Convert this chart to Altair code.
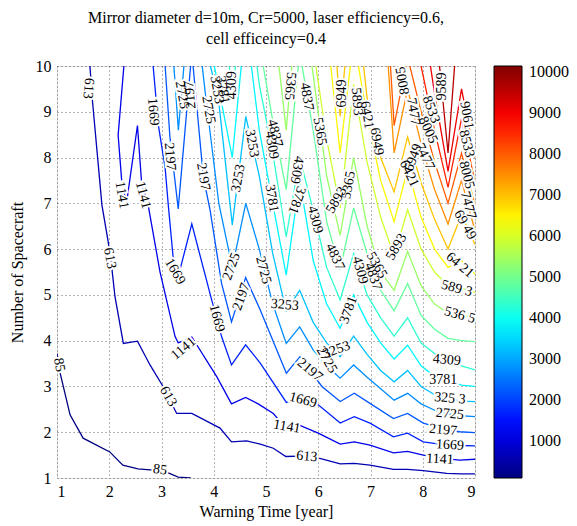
import altair as alt
import pandas as pd

# ---- contour levels and traced contour lines (x = warning time [year], y = number of spacecraft)
levels = [85, 613, 1141, 1669, 2197, 2725, 3253, 3781, 4309, 4837, 5365, 5893, 6421, 6949, 7477, 8005, 8533, 9061, 9589]

c85_x = [1.0, 1.06, 1.25, 1.5, 2.01, 2.26, 2.55, 2.84, 3.13, 3.32, 3.56]
c85_y = [3.72, 3.29, 2.38, 1.87, 1.57, 1.28, 1.20, 1.17, 1.11, 1.02, 1.0]

c613_x = [1.63, 1.68, 1.86, 1.98, 2.05, 2.11, 2.27, 2.54, 2.78, 3.03, 3.29, 3.58, 4.12, 4.34, 4.63, 4.89, 5.14, 5.38, 5.65, 6.03, 6.42, 6.69, 6.99, 7.44, 7.71, 8.01, 8.46, 8.74, 9.0]
c613_y = [10.0, 9.22, 6.96, 6.16, 5.58, 4.96, 3.94, 3.99, 3.47, 3.0, 2.41, 2.41, 2.09, 1.79, 1.81, 1.74, 1.65, 1.47, 1.48, 1.43, 1.31, 1.32, 1.28, 1.19, 1.19, 1.16, 1.10, 1.09, 1.09]

c1141_x = [2.28, 2.17, 2.24, 2.33, 2.54, 2.62, 2.75, 2.97, 3.26, 3.32, 3.58, 4.06, 4.34, 4.61, 4.85, 5.14, 5.39, 5.65, 6.0, 6.42, 6.69, 6.99, 7.44, 7.71, 8.01, 8.46, 8.71, 9.0]
c1141_y = [10.0, 8.49, 7.47, 7.0, 8.70, 7.44, 6.93, 5.51, 4.09, 3.95, 4.08, 3.21, 2.62, 2.76, 2.62, 2.41, 2.08, 2.15, 1.98, 1.74, 1.79, 1.72, 1.55, 1.58, 1.50, 1.42, 1.39, 1.41]

c1669_x = [2.84, 2.94, 3.07, 3.13, 3.23, 3.32, 3.58, 3.96, 4.15, 4.34, 4.61, 4.89, 5.39, 5.65, 6.0, 6.42, 6.69, 6.99, 7.44, 7.71, 8.01, 8.46, 8.71, 9.0]
c1669_y = [10.0, 8.71, 7.77, 6.96, 5.73, 5.40, 6.55, 4.89, 4.09, 3.47, 3.91, 3.51, 2.65, 2.72, 2.60, 2.20, 2.34, 2.20, 1.90, 1.98, 1.79, 1.72, 1.71, 1.70]

c2197_x = [3.07, 3.16, 3.32, 3.58, 3.80, 3.93, 4.15, 4.34, 4.61, 4.89, 5.39, 5.65, 6.07, 6.42, 6.69, 6.99, 7.44, 7.71, 8.01, 8.46, 8.71, 9.0]
c2197_y = [10.0, 8.46, 6.88, 10.3, 7.58, 6.85, 5.25, 4.41, 5.38, 4.67, 3.29, 3.65, 3.0, 2.67, 2.85, 2.63, 2.30, 2.41, 2.20, 2.05, 2.01, 1.99]

c2725_x = [3.20, 3.323, 3.581, 3.839, 4.097, 4.355, 4.613, 4.871, 5.129, 5.387, 5.645, 5.903, 6.161, 6.419, 6.677, 6.935, 7.194, 7.452, 7.71, 7.968, 8.226, 8.484, 8.742, 9.0]
c2725_y = [10.6, 8.6, 12.0, 9.4, 7.0, 5.6, 7.0, 6.0, 4.8, 3.94, 4.3, 3.8, 3.45, 3.18, 3.47, 3.2, 2.95, 2.70, 2.85, 2.62, 2.48, 2.40, 2.36, 2.34]

c3253_x = [3.45, 3.581, 3.839, 4.097, 4.355, 4.613, 4.871, 5.129, 5.387, 5.645, 5.903, 6.161, 6.419, 6.677, 6.935, 7.194, 7.452, 7.71, 7.968, 8.226, 8.484, 8.742, 9.0]
c3253_y = [13.0, 12.5, 10.5, 9.2, 6.53, 8.9, 7.6, 5.9, 4.65, 5.1, 4.4, 3.95, 3.65, 4.1, 3.7, 3.35, 3.1, 3.35, 3.0, 2.82, 2.74, 2.68, 2.67]

c3781_x = [3.70, 3.839, 4.097, 4.355, 4.613, 4.871, 5.129, 5.387, 5.645, 5.903, 6.161, 6.419, 6.677, 6.935, 7.194, 7.452, 7.71, 7.968, 8.226, 8.484, 8.742, 9.0]
c3781_y = [12.5, 11.0, 9.5, 8.0, 11.0, 8.6, 7.0, 5.43, 7.5, 5.75, 4.8, 4.27, 5.0, 4.4, 3.95, 3.6, 3.9, 3.45, 3.22, 3.12, 3.03, 3.0]

c4309_x = [4.10, 4.355, 4.613, 4.871, 5.129, 5.387, 5.645, 5.903, 6.161, 6.419, 6.677, 6.935, 7.194, 7.452, 7.71, 7.968, 8.226, 8.484, 8.742, 9.0]
c4309_y = [12.0, 9.4, 12.0, 9.6, 8.1, 6.27, 8.0, 6.85, 5.6, 4.89, 5.9, 5.0, 4.5, 4.1, 4.5, 3.95, 3.72, 3.58, 3.45, 3.36]

c4837_x = [4.70, 4.871, 5.129, 5.387, 5.645, 5.903, 6.161, 6.419, 6.677, 6.935, 7.194, 7.452, 7.71, 7.968, 8.226, 8.484, 8.742, 9.0]
c4837_y = [12.0, 10.5, 8.8, 7.3, 10.3, 8.6, 6.6, 5.55, 6.9, 5.9, 5.1, 4.65, 5.25, 4.55, 4.25, 4.05, 4.0, 3.98]

c5365_x = [5.05, 5.387, 5.645, 5.903, 6.161, 6.419, 6.677, 6.935, 7.194, 7.452, 7.71, 7.968, 8.226, 8.484, 8.742, 9.0]
c5365_y = [12.0, 8.6, 12.0, 9.8, 7.6, 6.3, 8.0, 6.5, 5.5, 5.1, 5.95, 5.2, 4.8, 4.6, 4.55, 4.5]

c5893_x = [5.60, 5.903, 6.161, 6.419, 6.677, 6.935, 7.194, 7.452, 7.71, 7.968, 8.226, 8.484, 8.742, 9.0]
c5893_y = [12.0, 10.4, 8.4, 6.9, 9.6, 7.9, 6.7, 5.85, 6.86, 6.0, 5.5, 5.2, 5.15, 5.05]

c6421_x = [6.05, 6.419, 6.677, 6.935, 7.194, 7.452, 7.71, 7.968, 8.226, 8.484, 8.742, 9.0]
c6421_y = [12.0, 8.1, 10.6, 8.9, 7.5, 6.6, 7.75, 6.7, 6.0, 5.6, 5.75, 5.45]

c6949_x = [6.25, 6.419, 6.677, 6.935, 7.194, 7.452, 7.71, 7.968, 8.226, 8.484, 8.742, 9.0]
c6949_y = [12.0, 8.9, 12.0, 9.3, 8.0, 7.25, 8.45, 7.45, 6.65, 6.0, 6.75, 6.1]

c7477_x = [7.25, 7.452, 7.71, 7.968, 8.226, 8.484, 8.742, 9.0]
c7477_y = [11.5, 8.1, 9.5, 8.3, 7.3, 6.55, 7.5, 6.4]

c8005_x = [7.35, 7.452, 7.71, 7.968, 8.226, 8.484, 8.742, 9.0]
c8005_y = [10.6, 8.7, 10.2, 9.0, 7.9, 7.0, 8.1, 6.95]

c8533_x = [7.70, 7.968, 8.226, 8.484, 8.742, 9.0]
c8533_y = [11.5, 10.0, 8.6, 7.35, 8.85, 7.45]

c9061_x = [7.95, 8.226, 8.484, 8.742, 9.0]
c9061_y = [11.5, 9.4, 7.7, 9.5, 8.0]

c9589_x = [8.15, 8.484, 8.742, 9.0]
c9589_y = [12.0, 8.1, 12.0, 10.2]

line_x = [c85_x, c613_x, c1141_x, c1669_x, c2197_x, c2725_x, c3253_x, c3781_x, c4309_x, c4837_x,
          c5365_x, c5893_x, c6421_x, c6949_x, c7477_x, c8005_x, c8533_x, c9061_x, c9589_x]
line_y = [c85_y, c613_y, c1141_y, c1669_y, c2197_y, c2725_y, c3253_y, c3781_y, c4309_y, c4837_y,
          c5365_y, c5893_y, c6421_y, c6949_y, c7477_y, c8005_y, c8533_y, c9061_y, c9589_y]

# ---- inline contour labels
lab_x = [1.04, 2.97, 1.60, 2.01, 3.13, 5.78, 2.24, 2.65, 3.42, 5.40, 8.33, 2.84, 3.26, 4.06, 5.71, 8.52,
         3.16, 3.55, 3.80, 4.53, 5.84, 8.39, 3.39, 3.90, 4.34, 4.95, 6.16, 8.52, 4.06, 4.73, 4.47, 5.36,
         6.35, 8.52, 4.17, 5.11, 5.59, 6.58, 8.39, 4.34, 5.11, 5.59, 5.94, 6.80, 8.46, 5.17, 5.78, 6.32,
         7.05, 5.46, 6.03, 6.58, 7.12, 8.71, 6.74, 6.35, 7.50, 8.65, 6.93, 7.74, 8.71, 6.46, 7.12, 7.82,
         8.81, 7.82, 8.87, 7.62, 8.84, 8.84, 8.84, 8.36, 8.04, 8.10, 8.16]
lab_y = [3.47, 1.18, 9.51, 5.80, 2.78, 1.47, 7.18, 7.18, 3.83, 2.12, 1.41, 9.0, 5.51, 4.49, 2.70, 1.72,
         8.02, 9.37, 7.58, 4.96, 3.36, 2.05, 9.37, 9.04, 5.62, 5.54, 3.58, 2.40, 9.48, 8.31, 7.55, 4.78,
         3.80, 2.74, 9.48, 7.11, 7.07, 4.67, 3.14, 9.58, 8.27, 7.73, 6.64, 5.54, 3.58, 8.53, 9.33, 5.83,
         5.40, 9.56, 8.57, 7.40, 5.65, 4.56, 9.22, 7.07, 6.05, 5.14, 8.93, 7.65, 5.65, 9.40, 8.35, 8.00,
         6.53, 9.00, 6.96, 9.68, 7.62, 8.30, 8.92, 9.55, 8.02, 8.60, 9.05]
lab_text = ["85", "85", "613", "613", "613", "613", "1141", "1141", "1141", "1141", "1141", "1669", "1669", "1669", "1669", "1669",
            "2197", "2197", "2197", "2197", "2197", "2197", "2725", "2725", "2725", "2725", "2725", "2725", "3253", "3253", "3253", "3253",
            "3253", "325 3", "3781", "3781", "3781", "3781", "3781", "4309", "4309", "4309", "4309", "4309", "4309", "4837", "4837", "4837",
            "4837", "5365", "5365", "5365", "5365", "536 5", "5893", "5893", "5893", "589 3", "6421", "6421", "64 21", "6949", "6949", "6949",
            "69 49", "7477", "7477", "8005", "8005", "8533", "9061", "9589", "7477", "8005", "8533"]
lab_angle = [80, 8, 95, 80, 60, 5, 80, 75, 320, 10, 3, 85, 60, 75, 15, 3,
             85, 265, 80, 290, 40, 5, 80, 80, 290, 75, 60, 5, 80, 80, 280, 5,
             340, 5, 80, 80, 110, 290, 0, 270, 80, 100, 75, 75, 5, 75, 80, 65,
             70, 95, 80, 280, 60, 15, 85, 300, 300, 15, 80, 65, 40, 270, 80, 290,
             60, 80, 75, 260, 75, 75, 80, 270, 65, 65, 70]

# ---- colormap (MATLAB jet) for the colour scale
def jet(t):
    r = min(max(1.5 - abs(4 * t - 3), 0), 1)
    g = min(max(1.5 - abs(4 * t - 2), 0), 1)
    b = min(max(1.5 - abs(4 * t - 1), 0), 1)
    return "#%02x%02x%02x" % (round(r * 255), round(g * 255), round(b * 255))

jet64 = [jet(i / 63) for i in range(64)]
cmin, cmax = 85, 10150

rows = []
for lev, xs, ys in zip(levels, line_x, line_y):
    for i, (xv, yv) in enumerate(zip(xs, ys)):
        rows.append({"level": lev, "order": i, "x": xv, "y": yv})
df = pd.DataFrame(rows)

labels = pd.DataFrame({"x": lab_x, "y": lab_y, "text": lab_text, "angle": lab_angle})

FONT = "Liberation Serif"

xscale = alt.Scale(domain=[1, 9], nice=False, zero=False)
yscale = alt.Scale(domain=[1, 10], nice=False, zero=False)

xaxis = alt.Axis(values=list(range(1, 10)), title="Warning Time [year]", grid=True, gridDash=[1, 3],
                 gridColor="#444444", gridWidth=0.8, ticks=False, domain=False, labelFont=FONT,
                 labelFontSize=16, labelColor="black", labelPadding=5, titleFont=FONT, titleFontSize=16,
                 titleFontWeight="normal", titleColor="black", titlePadding=4)
yaxis = alt.Axis(values=list(range(1, 11)), title="Number of Spacecraft", grid=True, gridDash=[1, 3],
                 gridColor="#444444", gridWidth=0.8, ticks=False, domain=False, labelFont=FONT,
                 labelFontSize=16, labelColor="black", labelPadding=6, titleFont=FONT, titleFontSize=16,
                 titleFontWeight="normal", titleColor="black", titlePadding=10)

lines = alt.Chart(df).mark_line(clip=True, strokeWidth=1.3).encode(
    x=alt.X("x:Q", scale=xscale, axis=xaxis),
    y=alt.Y("y:Q", scale=yscale, axis=yaxis),
    detail="level:N",
    order="order:Q",
    color=alt.Color("level:Q", scale=alt.Scale(domain=[cmin, cmax], range=jet64),
                    legend=alt.Legend(orient="none", legendX=437, legendY=0, direction="vertical",
                                      gradientLength=412, gradientThickness=28,
                                      values=[1000, 2000, 3000, 4000, 5000, 6000, 7000, 8000, 9000, 10000],
                                      format="d", labelFont=FONT, labelFontSize=16, labelColor="black",
                                      labelOffset=7, gradientStrokeColor="black", gradientStrokeWidth=1,
                                      title=None)),
)

halo = alt.Chart(labels).mark_text(font=FONT, fontSize=14, fill="white", stroke="white", strokeWidth=4).encode(
    x=alt.X("x:Q", scale=xscale), y=alt.Y("y:Q", scale=yscale), text="text:N",
    angle=alt.Angle("angle:Q", scale=None))
txt = alt.Chart(labels).mark_text(font=FONT, fontSize=14, color="black").encode(
    x=alt.X("x:Q", scale=xscale), y=alt.Y("y:Q", scale=yscale), text="text:N",
    angle=alt.Angle("angle:Q", scale=None))

chart = alt.layer(lines, halo, txt).properties(
    width=418, height=412,
    title=alt.TitleParams(["Mirror diameter d=10m, Cr=5000, laser efficiency=0.6,", "cell efficeincy=0.4"],
                          font=FONT, fontSize=16, fontWeight="normal", color="black", anchor="middle",
                          lineHeight=21, offset=11),
    padding={"left": 57, "top": 66, "right": 102, "bottom": 48},
    autosize=alt.AutoSizeParams(type="none"),
).configure_view(stroke="black", strokeWidth=1).configure(background="white")

chart.save("out.html", embed_options={"renderer": "svg", "actions": False})
